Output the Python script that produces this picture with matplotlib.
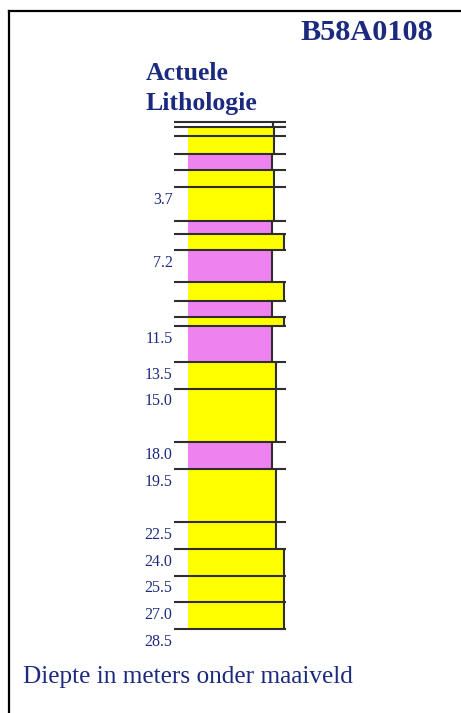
import numpy as np
import matplotlib
matplotlib.use('Agg')
from matplotlib import pyplot as plt
from matplotlib.patches import Rectangle
from matplotlib.lines import Line2D

# layer boundaries (m below surface), top -> bottom
tops    = [0.0, 0.3, 0.8, 1.8, 2.7, 3.7, 5.6, 6.3, 7.2, 9.0, 10.1,
           11.0, 11.5, 13.5, 15.0, 18.0, 19.5, 22.5, 24.0, 25.5, 27.0]
bottoms = [0.3, 0.8, 1.8, 2.7, 3.7, 5.6, 6.3, 7.2, 9.0, 10.1, 11.0,
           11.5, 13.5, 15.0, 18.0, 19.5, 22.5, 24.0, 25.5, 27.0, 28.5]
# lithology class per layer
litho = ['leeg', 'zand_f', 'zand_f', 'klei', 'zand_f', 'zand_f', 'klei',
         'zand_g', 'klei', 'zand_g', 'klei', 'zand_g', 'klei', 'zand_m',
         'zand_m', 'klei', 'zand_m', 'zand_m', 'zand_g', 'zand_g', 'zand_g']
# depths that get a label
labelDepths = [3.7, 7.2, 11.5, 13.5, 15.0, 18.0, 19.5, 22.5, 24.0, 25.5, 27.0, 28.5]

boreId = 'B58A0108'

# style per class: (fill colour, right edge of the column)
style = {
    'leeg':   ('none',    99),
    'klei':   ('#EE82EE', 98),
    'zand_f': ('#FFFF00', 100),
    'zand_m': ('#FFFF00', 102),
    'zand_g': ('#FFFF00', 110),
}

txtColor = '#1b2a7e'
lineColor = '#2e2e2e'
font = 'Liberation Serif'

W, H = 461, 713
fig = plt.figure(figsize=(W / 100, H / 100), dpi=100)

# frame (left and top line only, the screenshot is cropped)
fig.add_artist(Line2D([8.5 / W, 8.5 / W], [0, 1 - 10.5 / H], transform=fig.transFigure,
                      color='black', lw=1.6))
fig.add_artist(Line2D([8.5 / W, 1], [1 - 10.5 / H, 1 - 10.5 / H], transform=fig.transFigure,
                      color='black', lw=1.6))

# column axes: x in column units, y in depth
yTop, yBot = 121.5, 629.0
xL, xR = 174.0, 286.0
ax = fig.add_axes([xL / W, 1 - yBot / H, (xR - xL) / W, (yBot - yTop) / H])
ax.set_xlim(0, xR - xL)
ax.set_ylim(bottoms[-1], 0)
ax.axis('off')

fillLeft = 14
for top, bot, lit in zip(tops, bottoms, litho):
    col, right = style[lit]
    ax.add_patch(Rectangle((fillLeft, top), right - fillLeft, bot - top,
                           facecolor=col, edgecolor='none', zorder=1))
    ax.plot([right, right], [top, bot], color=lineColor, lw=1.5, zorder=3,
            solid_capstyle='butt')

# horizontal boundary lines
for d in sorted(set(tops + bottoms)):
    ax.plot([0, xR - xL], [d, d], color=lineColor, lw=1.5, zorder=2,
            solid_capstyle='butt', clip_on=False)

# depth labels just below their boundary line
for d in labelDepths:
    ax.annotate('%.1f' % d, xy=(0, d), xytext=(-1, -3.5), textcoords='offset points',
                ha='right', va='top', fontsize=11.5, family=font, color=txtColor,
                annotation_clip=False)

fig.text(300 / W, 1 - 40 / H, boreId, fontsize=21.8, family=font, weight='bold',
         color=txtColor, ha='left', va='baseline')
fig.text(146 / W, 1 - 80 / H, 'Actuele', fontsize=18.5, family=font, weight='bold',
         color=txtColor, ha='left', va='baseline')
fig.text(146 / W, 1 - 110 / H, 'Lithologie', fontsize=18.5, family=font, weight='bold',
         color=txtColor, ha='left', va='baseline')
fig.text(23 / W, 1 - 683 / H, 'Diepte in meters onder maaiveld', fontsize=18.2,
         family=font, color=txtColor, ha='left', va='baseline')

fig.savefig('out.png', dpi=100)
